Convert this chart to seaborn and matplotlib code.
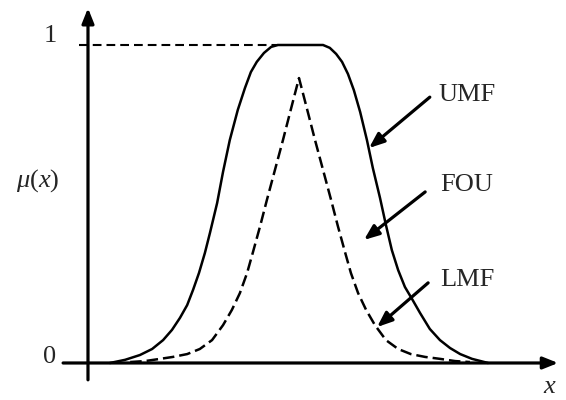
import numpy as np
import pandas as pd
import matplotlib
matplotlib.use("Agg")
import matplotlib.pyplot as plt
import seaborn as sns

# Upper membership function (solid)
umf_x = [0.52, 0.88, 1.23, 1.52, 1.78, 1.99, 2.18, 2.35, 2.49, 2.63, 2.77, 2.89,
         3.06, 3.20, 3.36, 3.55, 3.72, 3.86, 4.00, 4.17, 4.34, 4.50,
         5.57, 5.73, 5.88, 6.02, 6.16, 6.30, 6.45, 6.61, 6.75, 6.92, 7.06,
         7.20, 7.35, 7.51, 7.68, 7.87, 8.10, 8.34, 8.58, 8.82, 9.10, 9.48]
umf_mu = [0.0, 0.010, 0.025, 0.044, 0.072, 0.104, 0.142, 0.182, 0.230, 0.283, 0.346, 0.409,
          0.503, 0.601, 0.701, 0.796, 0.865, 0.915, 0.947, 0.975, 0.994, 1.0,
          1.0, 0.991, 0.972, 0.947, 0.909, 0.858, 0.789, 0.701, 0.613, 0.519, 0.434,
          0.355, 0.292, 0.239, 0.201, 0.157, 0.107, 0.072, 0.047, 0.028, 0.013, 0.0]

# Lower membership function (dashed)
lmf_x = [1.00, 1.35, 1.71, 2.01, 2.35, 2.65, 2.94, 3.20, 3.41, 3.60, 3.77, 3.91,
         4.08, 4.24, 4.43, 4.62, 4.81, 5.00, 5.19, 5.38, 5.57, 5.76, 5.92, 6.09,
         6.23, 6.40, 6.59, 6.80, 7.06, 7.35, 7.65, 7.99, 8.34, 8.70, 9.05]
lmf_mu = [0.003, 0.006, 0.013, 0.019, 0.028, 0.044, 0.072, 0.119, 0.167, 0.220, 0.283, 0.349,
          0.431, 0.513, 0.607, 0.701, 0.799, 0.896, 0.799, 0.701, 0.607, 0.513, 0.431, 0.349,
          0.283, 0.220, 0.167, 0.119, 0.072, 0.044, 0.028, 0.019, 0.013, 0.006, 0.003]

labels = ["UMF", "FOU", "LMF"]

sns.set_theme(style="white")
plt.rcParams["font.family"] = ["Liberation Serif", "DejaVu Serif"]
plt.rcParams["mathtext.fontset"] = "custom"
plt.rcParams["mathtext.rm"] = "Liberation Serif"
plt.rcParams["mathtext.it"] = "Liberation Serif:italic"

fig = plt.figure(figsize=(5.66, 4.0), dpi=100)
ax = fig.add_axes([0, 0, 1, 1])
ax.set_xlim(-2.085, 11.327)
ax.set_ylim(-0.1164, 1.1415)
ax.axis("off")

dash = (0, (4.6, 2.0))
sns.lineplot(x=umf_x, y=umf_mu, sort=False, estimator=None, ax=ax,
             color="black", lw=1.8)
sns.lineplot(x=lmf_x, y=lmf_mu, sort=False, estimator=None, ax=ax,
             color="black", lw=1.8, linestyle=dash)

# dashed guide at mu = 1
ax.plot([-0.21, umf_x[umf_mu.index(1.0)]], [1.0, 1.0], color="black", lw=1.5,
        linestyle=(0, (4.2, 2.4)))

# axes with arrowheads
axis_arrow = dict(arrowstyle="-|>,head_length=0.75,head_width=0.3", lw=2.3,
                  color="black", shrinkA=0, shrinkB=0)
ax.annotate("", xy=(11.14, 0), xytext=(-0.59, 0), arrowprops=axis_arrow)
ax.annotate("", xy=(0, 1.116), xytext=(0, -0.053), arrowprops=axis_arrow)

fs = 19
ax.text(-0.90, 1.028, "1", fontsize=fs, ha="center", va="center")
ax.text(-0.90, 0.019, "0", fontsize=fs, ha="center", va="center")
ax.text(-1.20, 0.575, r"$\mu(x)$", fontsize=fs, ha="center", va="center")
ax.text(10.95, -0.075, r"$x$", fontsize=fs, ha="center", va="center")

ptr = dict(arrowstyle="-|>,head_length=0.75,head_width=0.3", lw=2.3,
           color="black", shrinkA=0, shrinkB=0)
label_pos = [(8.98, 0.843), (8.98, 0.560), (8.98, 0.261)]
arrow_from = [(8.10, 0.836), (7.99, 0.538), (8.06, 0.252)]
arrow_to = [(6.66, 0.676), (6.54, 0.387), (6.85, 0.113)]
for lab, lp, a0, a1 in zip(labels, label_pos, arrow_from, arrow_to):
    ax.text(lp[0], lp[1], lab, fontsize=fs, ha="center", va="center")
    ax.annotate("", xy=a1, xytext=a0, arrowprops=ptr)

fig.savefig("out.png", dpi=100)
